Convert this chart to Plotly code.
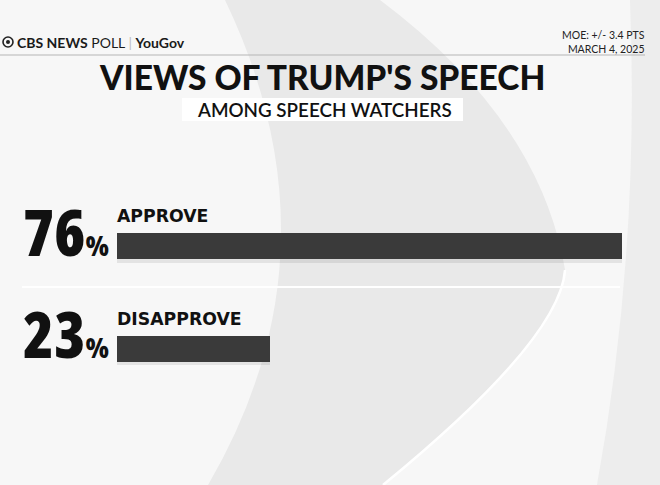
import plotly.graph_objects as go

# ---- data ----
categories = ["APPROVE", "DISAPPROVE"]
values = [76, 23]
title = "VIEWS OF TRUMP'S SPEECH"
subtitle = "AMONG SPEECH WATCHERS"
moe = "MOE: +/- 3.4 PTS"
date = "MARCH 4, 2025"

W, H = 660, 485

def P(x, y):
    return f"{x / W:.4f},{1 - y / H:.4f}"

fig = go.Figure()
# soft shadow under the bars
fig.add_trace(go.Bar(
    x=values, y=categories, orientation="h",
    marker=dict(color="rgba(0,0,0,0.08)", line=dict(width=0)),
    width=0.25, offset=-0.125 + 0.035, hoverinfo="skip",
))
fig.add_trace(go.Bar(
    x=values, y=categories, orientation="h",
    marker=dict(color="#3a3a3a", line=dict(width=0)),
    width=0.25, offset=-0.125, hoverinfo="skip",
))

shapes = []
# background swooshes (decorative)
shapes.append(dict(type="path", xref="paper", yref="paper", layer="below",
    path=f"M {P(225,0)} Q {P(345,250)} {P(208,485)} L {P(383,485)} Q {P(560,340)} {P(565,270)} Q {P(540,120)} {P(380,0)} Z",
    fillcolor="#e9e9e9", line=dict(width=0)))
shapes.append(dict(type="path", xref="paper", yref="paper", layer="below",
    path=f"M {P(630,0)} Q {P(640,250)} {P(597,485)} L {P(660,485)} L {P(660,0)} Z",
    fillcolor="#ededed", line=dict(width=0)))
shapes.append(dict(type="path", xref="paper", yref="paper", layer="below",
    path=f"M {P(565,270)} Q {P(560,340)} {P(383,485)}",
    line=dict(color="#ffffff", width=2.5)))
# header rule
shapes.append(dict(type="line", xref="paper", yref="paper", layer="below",
    x0=0, x1=645 / W, y0=1 - 55 / H, y1=1 - 55 / H, line=dict(color="#b5b5b5", width=1)))
# subtitle box
shapes.append(dict(type="rect", xref="paper", yref="paper", layer="below",
    x0=182 / W, x1=463 / W, y0=1 - 121 / H, y1=1 - 98 / H,
    fillcolor="#ffffff", line=dict(width=0)))
# divider between bars
shapes.append(dict(type="line", xref="paper", yref="paper", layer="below",
    x0=22 / W, x1=620 / W, y0=1 - 287 / H, y1=1 - 287 / H, line=dict(color="#ffffff", width=2)))
# CBS eye logo
shapes.append(dict(type="circle", xref="paper", yref="paper",
    x0=3 / W, x1=13 / W, y0=1 - 47 / H, y1=1 - 37 / H, line=dict(color="#222", width=1.6)))
shapes.append(dict(type="circle", xref="paper", yref="paper",
    x0=6 / W, x1=10 / W, y0=1 - 44 / H, y1=1 - 40 / H, fillcolor="#222", line=dict(width=0)))

ann = []
ann.append(dict(xref="paper", yref="paper", x=15 / W, y=1 - 42 / H, xanchor="left", yanchor="middle",
    showarrow=False,
    text="<b>CBS NEWS</b> POLL <span style='color:#bbbbbb'>|</span> <b>YouGov</b>",
    font=dict(family="Lato", size=14, color="#1a1a1a")))
ann.append(dict(xref="paper", yref="paper", x=647 / W, y=1 - 42 / H, xanchor="right", yanchor="middle",
    showarrow=False, align="right", text=f"{moe}<br>{date}",
    font=dict(family="Lato", size=10.5, color="#222")))
ann.append(dict(xref="paper", yref="paper", x=322 / W, y=1 - 77 / H, xanchor="center", yanchor="middle",
    showarrow=False, text=title,
    font=dict(family="Lato", size=33.5, color="#111", weight=900)))
ann.append(dict(xref="paper", yref="paper", x=324 / W, y=1 - 109.5 / H, xanchor="center", yanchor="middle",
    showarrow=False, text=subtitle,
    font=dict(family="Lato", size=18.8, color="#111", weight=600)))

for c, v in zip(categories, values):
    ann.append(dict(xref="x", yref="y", x=0, y=c, xanchor="right", yanchor="middle",
        xshift=-6, yshift=15, showarrow=False,
        text=(f"<span style='font-stretch:75%'>{v}</span>"
              f"<span style='font-stretch:75%;font-size:28px'>%</span>"),
        font=dict(family="Open Sans", size=63, color="#111", weight=800)))
    ann.append(dict(xref="x", yref="y", x=0, y=c, xanchor="left", yanchor="middle",
        xshift=-2, yshift=30, showarrow=False, text=c,
        font=dict(family="DejaVu Sans", size=17.3, color="#111", weight="bold")))

fig.update_layout(
    width=W, height=H,
    margin=dict(l=0, r=0, t=0, b=0),
    paper_bgcolor="#f7f7f7", plot_bgcolor="rgba(0,0,0,0)",
    showlegend=False, barmode="overlay",
    shapes=shapes, annotations=ann,
    xaxis=dict(range=[0, 76], domain=[117 / W, 622 / W], visible=False, fixedrange=True),
    yaxis=dict(categoryorder="array", categoryarray=categories, range=[1.5, -0.5],
               domain=[1 - 399.75 / H, 1 - 194.75 / H], visible=False, fixedrange=True),
    bargap=0,
)
fig.write_html("out.html", config={"displayModeBar": False},
               post_script="document.body.style.margin='0';")
